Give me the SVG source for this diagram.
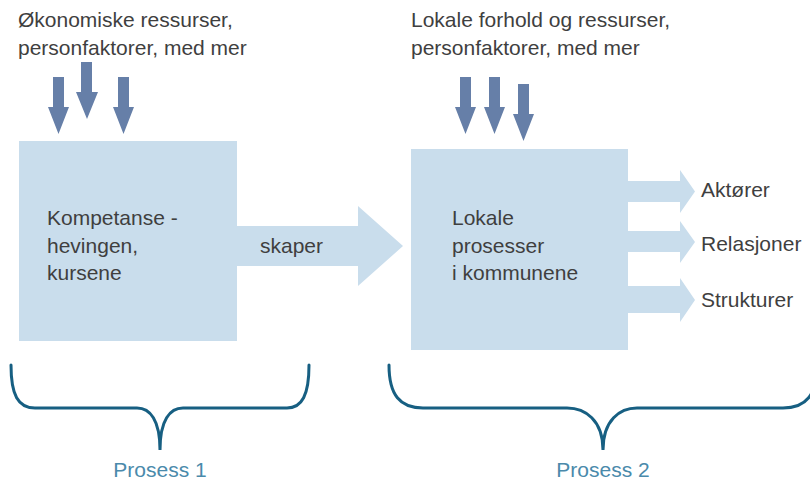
<svg xmlns="http://www.w3.org/2000/svg" width="810" height="481" viewBox="0 0 810 481">
  <defs>
    <style>
      .box { fill: #c9ddec; }
      .flow { fill: #c9ddec; }
      .down { fill: #667fa8; }
      .txt { font-family: "Liberation Sans", "DejaVu Sans", sans-serif; font-size: 21px; fill: #3f3f3f; }
      .brace { fill: none; stroke: #175f82; stroke-width: 3; stroke-linecap: round; }
      .plabel { font-family: "Liberation Sans", "DejaVu Sans", sans-serif; font-size: 21px; fill: #4a8aab; text-anchor: middle; }
    </style>
  </defs>
  <rect width="810" height="481" fill="#ffffff"/>

  <g id="input-left">
    <text class="txt" x="18" y="27">Økonomiske ressurser,</text>
    <text class="txt" x="18" y="55">personfaktorer, med mer</text>
  </g>
  <g id="input-right">
    <text class="txt" x="411" y="27">Lokale forhold og ressurser,</text>
    <text class="txt" x="411" y="55">personfaktorer, med mer</text>
  </g>

  <g id="connectors">
    <polygon class="down" points="53,77 64,77 64,107 69,107 58.5,134 48,107 53,107"/>
    <polygon class="down" points="81,62 92,62 92,92 98,92 87,119 76,92 81,92"/>
    <polygon class="down" points="118,77 129,77 129,107 134,107 123.5,134 113,107 118,107"/>
    <polygon class="down" points="460,77 471,77 471,107 476,107 465.5,134 455,107 460,107"/>
    <polygon class="down" points="489,77 500,77 500,107 505,107 494.5,134 484,107 489,107"/>
    <polygon class="down" points="518,84 529,84 529,114 534,114 523.5,141 513,114 518,114"/>
    <g id="skaper-arrow">
      <polygon class="flow" points="236,226 358,226 358,206 403,246 358,286 358,266 236,266"/>
      <text class="txt" x="260" y="253">skaper</text>
    </g>
    <polygon class="flow" points="627,181 680,181 680,170 695,191.5 680,213 680,202 627,202"/>
    <polygon class="flow" points="627,231 680,231 680,221 695,242 680,263 680,252 627,252"/>
    <polygon class="flow" points="627,286 680,286 680,278 695,300 680,322 680,313 627,313"/>
  </g>

  <g id="node-kompetanse">
    <rect class="box" x="19" y="141" width="218" height="200"/>
    <text class="txt" x="47" y="225">Kompetanse -</text>
    <text class="txt" x="47" y="253">hevingen,</text>
    <text class="txt" x="47" y="280">kursene</text>
  </g>

  <g id="node-lokale">
    <rect class="box" x="411" y="149" width="217" height="201"/>
    <text class="txt" x="452" y="225">Lokale</text>
    <text class="txt" x="452" y="253">prosesser</text>
    <text class="txt" x="452" y="280">i kommunene</text>
  </g>

  <g id="outputs">
    <text class="txt" x="701" y="197">Aktører</text>
    <text class="txt" x="701" y="251">Relasjoner</text>
    <text class="txt" x="701" y="307">Strukturer</text>
  </g>

  <g id="prosess-1">
    <path class="brace" d="M11,365 C11,395 18,408 35,408 L137,408 C150,408 160,420 160,450 C160,420 170,408 183,408 L287,408 C302,408 309,395 309,365"/>
    <text class="plabel" x="160" y="477">Prosess 1</text>
  </g>
  <g id="prosess-2">
    <path class="brace" d="M389,365 C389,395 400,408 423,408 L567,408 C585,408 603,420 603,450 C603,420 620,408 637,408 L783,408 C806,408 817,395 817,365"/>
    <text class="plabel" x="603" y="477">Prosess 2</text>
  </g>
</svg>
